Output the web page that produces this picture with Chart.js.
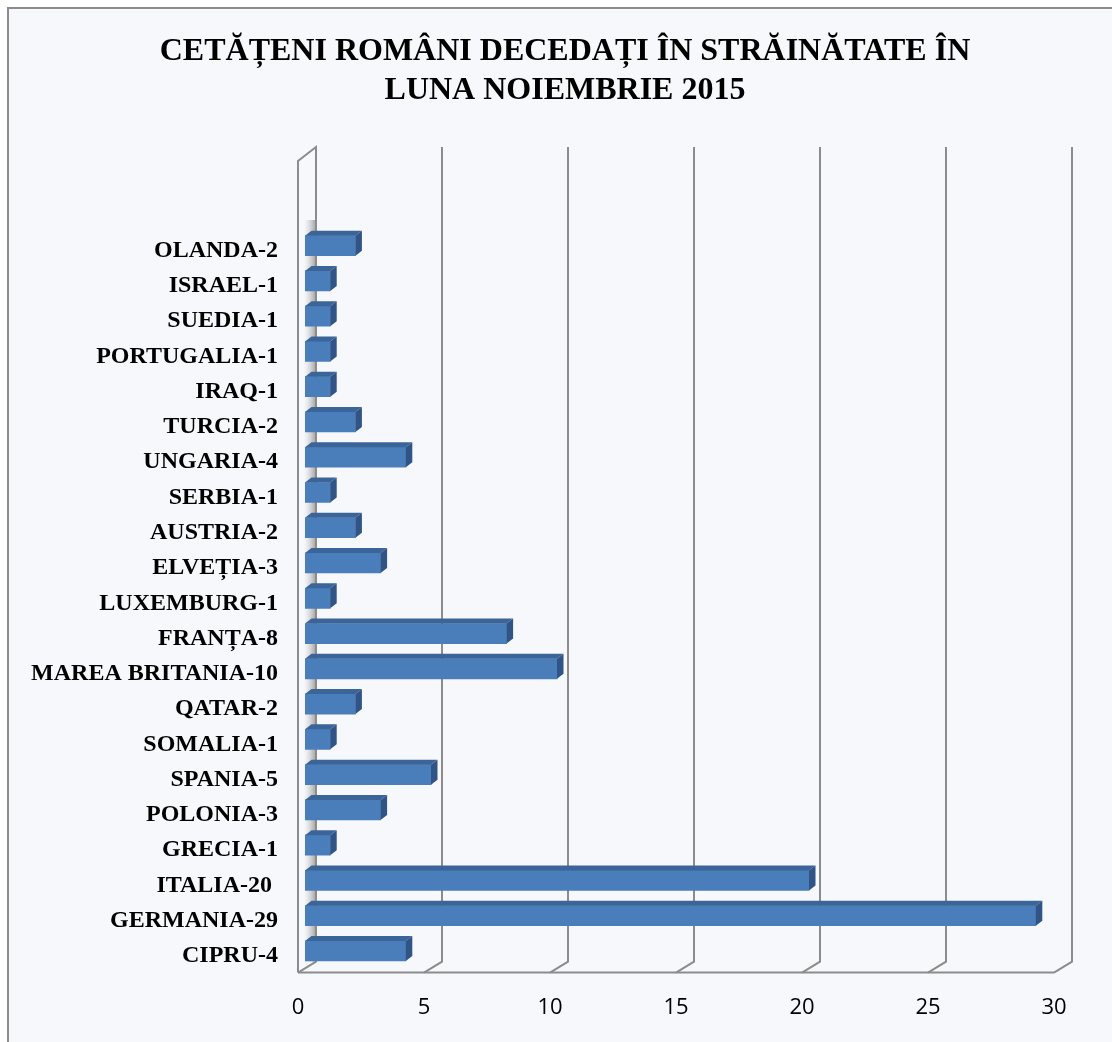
<!DOCTYPE html>
<html>
<head>
<meta charset="utf-8">
<script src="https://cdn.jsdelivr.net/npm/chart.js@4.4.1/dist/chart.umd.min.js"></script>
<style>
  html, body { margin: 0; padding: 0; background: #ffffff; }
  #wrap { width: 1112px; height: 1042px; }
</style>
</head>
<body>
<div id="wrap"><canvas id="chart"></canvas></div>
<script>
var countries = ["OLANDA-2", "ISRAEL-1", "SUEDIA-1", "PORTUGALIA-1", "IRAQ-1", "TURCIA-2",
  "UNGARIA-4", "SERBIA-1", "AUSTRIA-2", "ELVEȚIA-3", "LUXEMBURG-1", "FRANȚA-8",
  "MAREA BRITANIA-10", "QATAR-2", "SOMALIA-1", "SPANIA-5", "POLONIA-3", "GRECIA-1",
  "ITALIA-20 ", "GERMANIA-29", "CIPRU-4"];
var deaths = [2, 1, 1, 1, 1, 2, 4, 1, 2, 3, 1, 8, 10, 2, 1, 5, 3, 1, 20, 29, 4];
var xTicks = [0, 5, 10, 15, 20, 25, 30];
var titleLines = ["CETĂȚENI ROMÂNI DECEDAȚI ÎN STRĂINĂTATE ÎN", "LUNA NOIEMBRIE 2015"];

var frameColor = "#8c8c8c";
var backShift = 11, frontShift = -7;

// page background, outer border and the title
var background = {
  id: "background",
  beforeDraw: function (chart) {
    var c = chart.ctx;
    c.save();
    c.fillStyle = "#ffffff";
    c.fillRect(0, 0, chart.width, chart.height);
    c.fillStyle = "#f7f8fc";
    c.fillRect(9, 9, chart.width, chart.height);
    c.strokeStyle = "#8c8c8c";
    c.lineWidth = 2;
    c.strokeRect(8, 8, chart.width + 20, chart.height + 20);
    c.fillStyle = "#000000";
    c.font = "bold 32px 'Liberation Serif'";
    c.textAlign = "center";
    c.textBaseline = "alphabetic";
    c.fillText(titleLines[0], 565, 60);
    c.fillText(titleLines[1], 565, 99);
    c.restore();
  }
};

// 3d walls and grid
var frame3d = {
  id: "frame3d",
  beforeDatasetsDraw: function (chart) {
    var c = chart.ctx, x = chart.scales.x, ca = chart.chartArea;
    var frontY = ca.bottom + 4, backY = frontY - 11;
    var topBack = 147, topFront = 161;
    var f0 = x.getPixelForValue(0) + frontShift, b0 = x.getPixelForValue(0) + backShift;
    c.save();
    // shadow on the side wall
    var g = c.createLinearGradient(f0 + 6, 0, b0, 0);
    g.addColorStop(0, "rgba(200,200,200,0)");
    g.addColorStop(1, "rgba(150,150,150,0.9)");
    c.fillStyle = g;
    c.fillRect(f0 + 6, ca.top - 8, b0 - f0 - 6, backY - ca.top + 8);
    c.strokeStyle = frameColor;
    c.lineWidth = 2;
    c.beginPath();
    c.moveTo(f0, frontY); c.lineTo(f0, topFront); c.lineTo(b0, topBack); c.lineTo(b0, backY); c.lineTo(f0, frontY);
    c.stroke();
    c.beginPath();
    c.moveTo(f0, frontY);
    c.lineTo(x.getPixelForValue(30) + frontShift, frontY);
    c.stroke();
    xTicks.forEach(function (v) {
      if (v === 0) return;
      var px = x.getPixelForValue(v);
      c.beginPath();
      c.moveTo(px + backShift, topBack);
      c.lineTo(px + backShift, backY);
      c.lineTo(px + frontShift, frontY);
      c.stroke();
    });
    c.restore();
  },
  afterDatasetsDraw: function (chart) {
    var c = chart.ctx;
    var dx = 6.5, dy = 5;
    c.save();
    chart.getDatasetMeta(0).data.forEach(function (bar) {
      var p = bar.getProps(["x", "y", "base", "height"], true);
      var top = p.y - p.height / 2, bottom = p.y + p.height / 2;
      c.fillStyle = "#3b6598";
      c.beginPath();
      c.moveTo(p.base, top); c.lineTo(p.base + dx, top - dy);
      c.lineTo(p.x + dx, top - dy); c.lineTo(p.x, top);
      c.closePath(); c.fill();
      c.fillStyle = "#2f5485";
      c.beginPath();
      c.moveTo(p.x, top); c.lineTo(p.x + dx, top - dy);
      c.lineTo(p.x + dx, bottom - dy); c.lineTo(p.x, bottom);
      c.closePath(); c.fill();
    });
    c.restore();
  }
};

new Chart("chart", {
  type: "bar",
  data: {
    labels: countries,
    datasets: [{
      data: deaths,
      backgroundColor: "#4a7ebb",
      borderWidth: 0,
      barThickness: 20
    }]
  },
  options: {
    indexAxis: "y",
    responsive: true,
    maintainAspectRatio: false,
    animation: false,
    layout: { padding: { top: 228, right: 51, bottom: 0, left: 0 } },
    plugins: {
      legend: { display: false },
      tooltip: { enabled: false },
      title: { display: false }
    },
    scales: {
      x: {
        min: 0,
        max: 30,
        grid: { display: false, drawTicks: false },
        border: { display: false },
        afterBuildTicks: function (scale) {
          scale.ticks = xTicks.map(function (v) { return { value: v }; });
        },
        afterFit: function (scale) { scale.height = 73.4; },
        ticks: {
          color: "#000000",
          font: { family: "Open Sans", size: 22 },
          padding: 26,
          labelOffset: -7,
          maxRotation: 0
        }
      },
      y: {
        grid: { display: false, drawTicks: false },
        border: { display: false },
        afterFit: function (scale) { scale.width = 305; },
        ticks: {
          color: "#000000",
          font: { family: "Liberation Serif", size: 24, weight: "bold" },
          padding: 27,
          labelOffset: 5
        }
      }
    }
  },
  plugins: [background, frame3d]
});
</script>
</body>
</html>
